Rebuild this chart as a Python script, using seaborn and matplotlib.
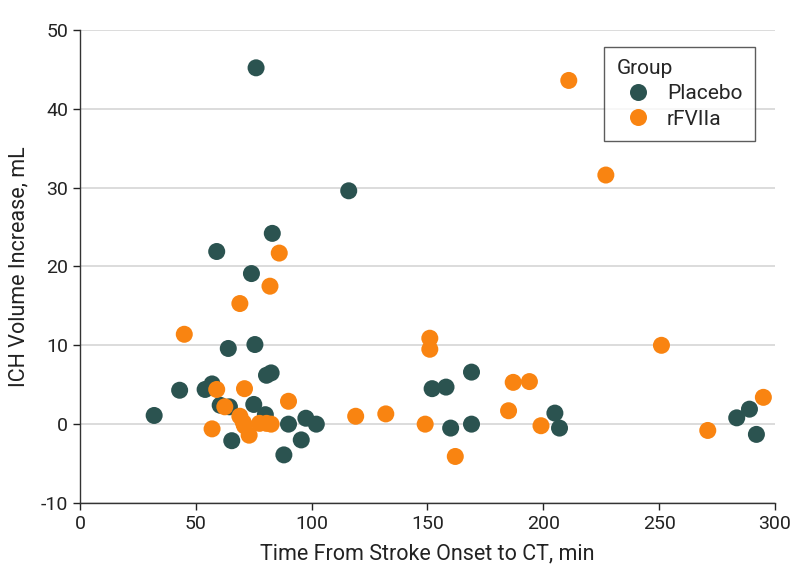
import matplotlib
matplotlib.use("Agg")
import matplotlib.pyplot as plt
import seaborn as sns
import pandas as pd

placebo_x = [32, 43, 54, 57, 59, 60.5, 64, 64.5, 65.5, 74, 75, 75.5, 76, 80.5, 80, 82.5, 83,
             88, 90, 95.5, 97.5, 102, 116, 152, 158, 160, 169, 169, 205, 207, 283.5, 289, 292]
placebo_y = [1.1, 4.3, 4.4, 5.1, 21.9, 2.4, 9.6, 2.2, -2.1, 19.1, 2.5, 10.1, 45.2, 6.2, 1.2, 6.5, 24.2,
             -3.9, 0.0, -2.0, 0.75, 0.0, 29.6, 4.5, 4.7, -0.5, 6.6, 0.0, 1.4, -0.5, 0.8, 1.9, -1.3]

rfviia_x = [45, 57, 59, 62.5, 69, 69, 70.5, 71, 71, 73, 77.5, 80.5, 82.5, 82, 86, 90,
            119, 132, 149, 151, 151, 162, 185, 187, 194, 199, 211, 227, 251, 271, 295]
rfviia_y = [11.4, -0.6, 4.4, 2.2, 15.3, 1.0, 0.2, -0.2, 4.5, -1.4, 0.1, 0.1, 0.0, 17.5, 21.7, 2.9,
            1.0, 1.3, 0.0, 10.9, 9.5, -4.1, 1.7, 5.3, 5.4, -0.2, 43.6, 31.6, 10.0, -0.8, 3.4]

groups = ["Placebo", "rFVIIa"]
colors = ["#2b5350", "#f98411"]
x_ticks = [0, 50, 100, 150, 200, 250, 300]
y_ticks = [-10, 0, 10, 20, 30, 40, 50]

df = pd.DataFrame({
    "Time": placebo_x + rfviia_x,
    "Increase": placebo_y + rfviia_y,
    "Group": ["Placebo"] * len(placebo_x) + ["rFVIIa"] * len(rfviia_x),
})

sns.set_theme(style="white")
plt.rcParams["font.family"] = ["Roboto", "DejaVu Sans"]
plt.rcParams["axes.unicode_minus"] = False

fig = plt.figure(figsize=(7.94, 5.88), dpi=100)
ax = fig.add_axes([0.1008, 0.1446, 0.8752, 0.8044])

sns.scatterplot(data=df, x="Time", y="Increase", hue="Group", hue_order=groups,
                palette=colors, s=150, linewidth=0, alpha=1, ax=ax, zorder=3)

ax.set_xlim(0, 300)
ax.set_ylim(-10, 50)
ax.set_xticks(x_ticks)
ax.set_yticks(y_ticks)
ax.tick_params(axis="both", labelsize=14, colors="#222222", length=5, width=1, direction="out",
               left=True, bottom=True)
ax.yaxis.grid(True, color="#d9d9d9", linewidth=1.3, zorder=0)
ax.xaxis.grid(False)
ax.set_axisbelow(True)
for side in ["top", "right"]:
    ax.spines[side].set_visible(False)
for side in ["left", "bottom"]:
    ax.spines[side].set_color("#333333")
    ax.spines[side].set_linewidth(1)

ax.set_xlabel("Time From Stroke Onset to CT, min", fontsize=15.5, color="#222222", labelpad=8)
ax.set_ylabel("ICH Volume Increase, mL", fontsize=15.5, color="#222222", labelpad=8)

leg = ax.legend(title="Group", loc="upper right", bbox_to_anchor=(0.971, 0.965),
                borderaxespad=0, fontsize=15, title_fontsize=15, frameon=True, fancybox=False,
                handletextpad=0.4, borderpad=0.6, labelspacing=0.3, markerscale=1.0)
leg._legend_box.align = "left"
leg.get_frame().set_edgecolor("#333333")
leg.get_frame().set_linewidth(1)

fig.savefig("out.png", dpi=100)
